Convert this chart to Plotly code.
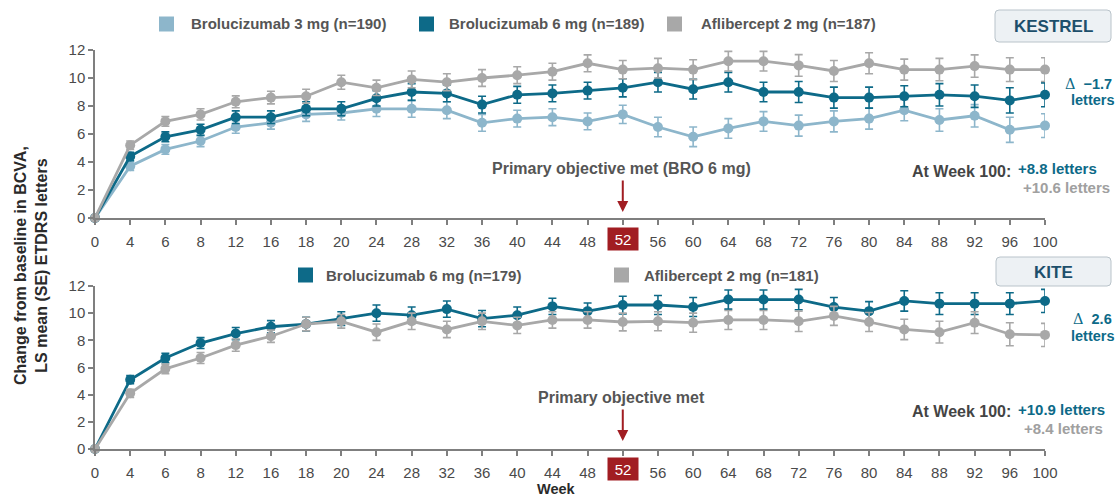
import plotly.graph_objects as go

weeks = ["0","4","6","8","12","16","18","20","24","28","32","36","40","44","48","52",
         "56","60","64","68","72","76","80","84","88","92","96","100"]

# KESTREL
k_bro3 = [0, 3.7, 4.9, 5.5, 6.5, 6.8, 7.4, 7.5, 7.8, 7.8, 7.7, 6.8, 7.1, 7.2, 6.9, 7.4,
          6.5, 5.8, 6.4, 6.9, 6.6, 6.9, 7.1, 7.7, 7.0, 7.3, 6.3, 6.6]
k_bro6 = [0, 4.4, 5.8, 6.3, 7.2, 7.2, 7.8, 7.8, 8.55, 9.0, 8.9, 8.1, 8.8, 8.9, 9.1, 9.3,
          9.7, 9.2, 9.7, 9.0, 9.0, 8.6, 8.6, 8.7, 8.8, 8.7, 8.4, 8.8]
k_afl = [0, 5.2, 6.9, 7.4, 8.3, 8.6, 8.7, 9.7, 9.3, 9.9, 9.7, 10.0, 10.2, 10.45, 11.05, 10.6,
         10.7, 10.6, 11.2, 11.2, 10.9, 10.5, 11.05, 10.6, 10.6, 10.85, 10.6, 10.6]
k_bro3_se = [0, 0.3, 0.35, 0.4, 0.45, 0.45, 0.5, 0.5, 0.55, 0.6, 0.6, 0.6, 0.6, 0.6, 0.6, 0.65,
             0.7, 0.7, 0.7, 0.7, 0.75, 0.75, 0.75, 0.75, 0.8, 0.8, 0.9, 0.85]
k_bro6_se = [0, 0.3, 0.35, 0.4, 0.45, 0.45, 0.5, 0.5, 0.55, 0.6, 0.6, 0.6, 0.6, 0.6, 0.6, 0.65,
             0.7, 0.7, 0.7, 0.7, 0.75, 0.75, 0.75, 0.75, 0.8, 0.8, 0.9, 0.85]
k_afl_se = [0, 0.3, 0.35, 0.4, 0.42, 0.45, 0.5, 0.5, 0.55, 0.6, 0.6, 0.6, 0.6, 0.6, 0.6, 0.65,
            0.7, 0.7, 0.7, 0.7, 0.77, 0.75, 0.75, 0.75, 0.8, 0.8, 0.85, 0.85]

# KITE
t_bro6 = [0, 5.1, 6.7, 7.8, 8.5, 9.0, 9.2, 9.6, 10.0, 9.85, 10.3, 9.6, 9.85, 10.5, 10.15, 10.6,
          10.6, 10.45, 11.0, 11.0, 11.0, 10.45, 10.15, 10.9, 10.7, 10.7, 10.7, 10.9]
t_afl = [0, 4.1, 5.9, 6.7, 7.65, 8.3, 9.2, 9.4, 8.6, 9.4, 8.8, 9.4, 9.1, 9.5, 9.5, 9.35,
         9.4, 9.3, 9.5, 9.5, 9.4, 9.8, 9.35, 8.8, 8.6, 9.3, 8.45, 8.4]
t_bro6_se = [0, 0.3, 0.35, 0.4, 0.45, 0.45, 0.5, 0.5, 0.6, 0.6, 0.6, 0.6, 0.6, 0.6, 0.6, 0.65,
             0.7, 0.7, 0.7, 0.7, 0.75, 0.7, 0.7, 0.75, 0.8, 0.8, 0.8, 0.85]
t_afl_se = [0, 0.3, 0.35, 0.4, 0.45, 0.45, 0.5, 0.5, 0.6, 0.6, 0.6, 0.6, 0.6, 0.6, 0.6, 0.65,
            0.7, 0.7, 0.7, 0.7, 0.75, 0.7, 0.7, 0.75, 0.8, 0.8, 0.85, 0.85]

ytick_vals = [0, 2, 4, 6, 8, 10, 12]
primary_week = "52"

C_BRO3 = "#8db6cb"
C_BRO6 = "#0d6a88"
C_AFL = "#a8a8a8"
C_RED = "#a11d22"
C_TXT = "#555555"
C_AX = "#4a4a4a"
FONT = "Liberation Sans, Arial, sans-serif"

W, H = 1119, 497
ML, MR, MT, MB = 95, 74, 20, 20
PW = W - ML - MR
PH = H - MT - MB


def px(x):
    return (x - ML) / PW


def py(y):
    return (H - MB - y) / PH


fig = go.Figure()


def add_series(y, se, color, xa, ya):
    fig.add_trace(go.Scatter(
        x=weeks, y=y, mode="lines+markers", xaxis=xa, yaxis=ya,
        line=dict(color=color, width=2.8),
        marker=dict(color=color, size=10),
        error_y=dict(type="data", array=se, visible=True, color=color, thickness=1.6, width=4),
        cliponaxis=False, showlegend=False, hoverinfo="skip"))


add_series(k_bro3, k_bro3_se, C_BRO3, "x", "y")
add_series(k_bro6, k_bro6_se, C_BRO6, "x", "y")
add_series(k_afl, k_afl_se, C_AFL, "x", "y")
add_series(t_bro6, t_bro6_se, C_BRO6, "x2", "y2")
add_series(t_afl, t_afl_se, C_AFL, "x2", "y2")

tick_text = ["" if w == primary_week else w for w in weeks]

xcommon = dict(type="category", categoryorder="array", categoryarray=weeks,
               tickvals=weeks, ticktext=tick_text,
               range=[0, len(weeks) - 1], showgrid=False, zeroline=False,
               showline=True, linecolor="#7f7f7f", linewidth=1.5,
               ticks="outside", ticklen=5, tickcolor="#7f7f7f", tickwidth=1.5,
               ticklabelstandoff=4,
               tickfont=dict(family=FONT, size=15, color=C_AX), domain=[0, 1])
ycommon = dict(range=[0, 12], tickvals=ytick_vals, showgrid=False, zeroline=False,
               showline=True, linecolor="#7f7f7f", linewidth=1.5,
               ticks="outside", ticklen=5, tickcolor="#7f7f7f", tickwidth=1.5,
               tickfont=dict(family=FONT, size=15, color=C_AX))

fig.update_layout(
    width=W, height=H, margin=dict(l=ML, r=MR, t=MT, b=MB),
    paper_bgcolor="white", plot_bgcolor="white",
    xaxis=dict(**xcommon, anchor="y"),
    yaxis=dict(**ycommon, domain=[py(218), py(50)], anchor="x"),
    xaxis2=dict(**xcommon, anchor="y2"),
    yaxis2=dict(**ycommon, domain=[py(449), py(286)], anchor="x2"),
    font=dict(family=FONT),
)

ann = []
shapes = []


def text(x, y, t, color=C_TXT, size=15, xanchor="left", bold=True, **kw):
    ann.append(dict(x=px(x), y=py(y), xref="paper", yref="paper", text=(f"<b>{t}</b>" if bold else t),
                    showarrow=False, xanchor=xanchor, yanchor="middle",
                    font=dict(family=FONT, size=size, color=color), **kw))


def square(x, y, color, s=15):
    shapes.append(dict(type="rect", xref="paper", yref="paper",
                       x0=px(x), x1=px(x + s), y0=py(y + s / 2), y1=py(y - s / 2),
                       fillcolor=color, line=dict(width=0)))


def rounded_box(x0, y0, x1, y1, r=4):
    pts = []
    path = (f"M {px(x0 + r)},{py(y0)} L {px(x1 - r)},{py(y0)} Q {px(x1)},{py(y0)} {px(x1)},{py(y0 + r)} "
            f"L {px(x1)},{py(y1 - r)} Q {px(x1)},{py(y1)} {px(x1 - r)},{py(y1)} "
            f"L {px(x0 + r)},{py(y1)} Q {px(x0)},{py(y1)} {px(x0)},{py(y1 - r)} "
            f"L {px(x0)},{py(y0 + r)} Q {px(x0)},{py(y0)} {px(x0 + r)},{py(y0)} Z")
    shapes.append(dict(type="path", xref="paper", yref="paper", path=path,
                       fillcolor="#edf1f4", line=dict(color="#b9c3ca", width=1)))


# legends
square(159, 24, C_BRO3); text(189, 24, "Brolucizumab 3 mg (n=190)")
square(419, 24, C_BRO6); text(447, 24, "Brolucizumab 6 mg (n=189)")
square(667, 24, C_AFL); text(699, 24, "Aflibercept 2 mg (n=187)")
square(298, 275, C_BRO6); text(324, 275, "Brolucizumab 6 mg (n=179)")
square(614, 275, C_AFL); text(642, 275, "Aflibercept 2 mg (n=181)")

# study boxes
for (x0, y0, x1, y1, lab) in [(995, 10, 1111, 42, "KESTREL"), (996, 257, 1111, 286, "KITE")]:
    rounded_box(x0, y0, x1, y1)
    text((x0 + x1) / 2, (y0 + y1) / 2 + 1, lab, color="#1d4f6b", size=17, xanchor="center")

# deltas
text(1114, 84, "<span style='font-family:DejaVu Serif;font-weight:normal'>Δ</span>  −1.7", color=C_BRO6,
     size=14.5, xanchor="right")
text(1117, 100, "letters", color=C_BRO6, size=14.5, xanchor="right")
text(1114, 319, "<span style='font-family:DejaVu Serif;font-weight:normal'>Δ</span>  2.6", color=C_BRO6,
     size=14.5, xanchor="right")
text(1117, 336, "letters", color=C_BRO6, size=14.5, xanchor="right")

# at week 100
text(1013, 171, "At Week 100:", color="#444444", size=16, xanchor="right")
text(1016, 169, "+8.8 letters", color=C_BRO6)
text(1021, 187, "+10.6 letters", color="#a0a0a0")
text(1013, 411, "At Week 100:", color="#444444", size=16, xanchor="right")
text(1016, 409, "+10.9 letters", color=C_BRO6)
text(1022, 428, "+8.4 letters", color="#a0a0a0")

# primary objective
text(621, 168, "Primary objective met (BRO 6 mg)", xanchor="center", size=16)
text(621, 397, "Primary objective met", xanchor="center", size=16)
pidx = weeks.index(primary_week)
for xr, ytip in [("x", 212), ("x2", 441)]:
    ann.append(dict(x=pidx, y=py(ytip), xref=xr, yref="paper", ax=0, ay=-33, text="",
                    showarrow=True, arrowhead=2, arrowsize=1.1, arrowwidth=2, arrowcolor=C_RED))
# highlighted 52 tick
for xr, yc in [("x", 239), ("x2", 469)]:
    ann.append(dict(x=pidx, y=py(yc), xref=xr, yref="paper", text=primary_week, showarrow=False,
                    bgcolor=C_RED, width=28, height=20, borderpad=1,
                    font=dict(family=FONT, size=15, color="white"),
                    xanchor="center", yanchor="middle"))

# axis titles
ann.append(dict(x=px(31), y=py(266), xref="paper", yref="paper", textangle=-90,
                text="<b>Change from baseline in BCVA,<br>LS mean (SE) ETDRS letters</b>",
                showarrow=False, font=dict(family=FONT, size=16, color="#2a2a2a"),
                xanchor="center", yanchor="middle"))
text(556, 489, "Week", color="#2a2a2a", xanchor="center", size=14.5, borderpad=0)

fig.update_layout(annotations=ann, shapes=shapes)
fig.write_html("out.html", config={"displayModeBar": False},
               post_script="document.body.style.margin='0';document.body.style.overflow='hidden';")
